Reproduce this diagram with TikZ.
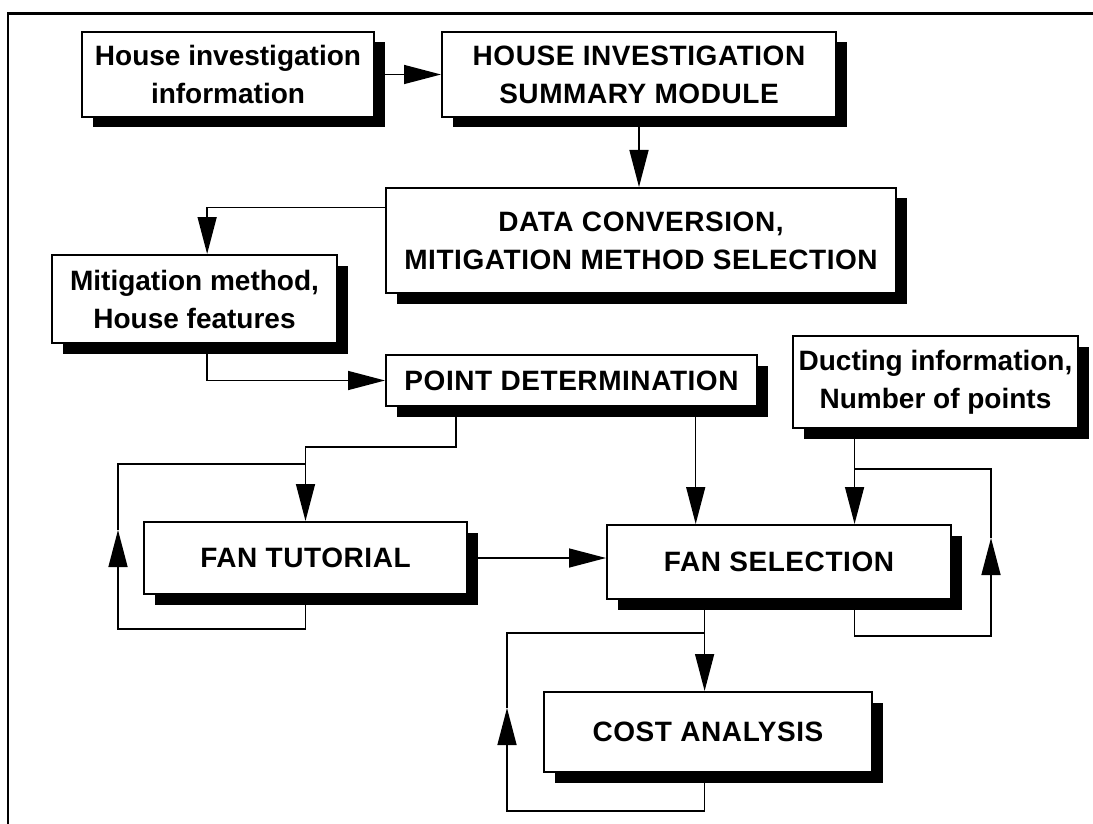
\documentclass[tikz,border=0pt]{standalone}
\usepackage{fontspec}
\setmainfont{Liberation Sans}
\newfontfamily\capsfont[LetterSpace=2]{Liberation Sans}
\usetikzlibrary{arrows.meta,shadows,calc}
\begin{document}
\begin{tikzpicture}[x=1pt,y=-1pt,
  box/.style={draw, line width=2pt, fill=white, inner sep=0pt, align=center,
    font=\fontsize{28}{38}\selectfont\bfseries,
    drop shadow={shadow xshift=10.5pt, shadow yshift=-10.5pt, fill=black, opacity=1}},
  capbox/.style={box, font=\capsfont\fontsize{28}{38}\selectfont\bfseries},
  conn/.style={line width=1.5pt},
  arr/.style={conn, -{Triangle[length=37pt,width=19pt]}},
  frame/.style={line width=2.5pt}
]
\useasboundingbox (0,0) rectangle (1093,824);
\draw[frame] (8,824) -- (8,13.5) -- (1093,13.5);

\node[box, minimum width=292pt, minimum height=85pt] (info) at (228,74.5) {House investigation\\information};
\node[capbox, minimum width=394pt, minimum height=85pt] (hism) at (639,74.5) {HOUSE INVESTIGATION\\SUMMARY MODULE};
\node[capbox, minimum width=510pt, minimum height=105pt] (data) at (641,240.5) {DATA CONVERSION,\\MITIGATION METHOD SELECTION};
\node[box, minimum width=285pt, minimum height=88pt] (mit) at (194.5,299) {Mitigation method,\\House features};
\node[capbox, minimum width=371pt, minimum height=51pt] (point) at (571.5,380.5) {POINT DETERMINATION};
\node[box, minimum width=285pt, minimum height=92pt] (duct) at (935.5,382) {Ducting information,\\Number of points};
\node[capbox, minimum width=323pt, minimum height=72pt] (ft) at (305.5,558) {FAN TUTORIAL};
\node[capbox, minimum width=344pt, minimum height=74pt] (fs) at (779,562) {FAN SELECTION};
\node[capbox, minimum width=328pt, minimum height=80pt] (cost) at (708,732) {COST ANALYSIS};

% main flow
\draw[arr] (info.east) -- (hism.west);
\draw[arr] (hism.south) -- (hism.south |- data.north);
\coordinate (dl) at ($(data.north west)!0.19!(data.south west)$);
\coordinate (mtop) at ($(mit.north west)!0.544!(mit.north east)$);
\draw[arr] (dl) -| (mtop);
\coordinate (mbot) at ($(mit.south west)!0.544!(mit.south east)$);
\draw[arr] (mbot) |- (point.west);
\coordinate (pb1) at ($(point.south west)!0.191!(point.south east)$);
\draw[arr] (pb1) -- ++(0,40) -| (ft.north);
\coordinate (pb2) at ($(point.south west)!0.833!(point.south east)$);
\draw[arr] (pb2) -- (pb2 |- fs.north);
\coordinate (db) at ($(duct.south west)!0.218!(duct.south east)$);
\draw[arr] (db) -- (db |- fs.north);
\draw[arr] (ft.east) -- (ft.east -| fs.west);
\coordinate (fb) at ($(fs.south west)!0.285!(fs.south east)$);
\draw[arr] (fb) -- (fb |- cost.north);

% loops
\coordinate (ftl) at (118,530);
\coordinate (ftjy) at (0,464);
\draw[arr] (ft.south) -- ++(0,34) -| (ftl);
\draw[conn] (ftl) |- (ft.north |- ftjy);

\coordinate (fsl) at (991,538);
\coordinate (fsjy) at (0,469);
\draw[arr] (db |- fs.south) -- ++(0,36) -| (fsl);
\draw[conn] (fsl) |- (db |- fsjy);

\coordinate (cl) at (507,708);
\coordinate (cjy) at (0,633);
\draw[arr] (fb |- cost.south) -- ++(0,38) -| (cl);
\draw[conn] (cl) |- (fb |- cjy);
\end{tikzpicture}
\end{document}
